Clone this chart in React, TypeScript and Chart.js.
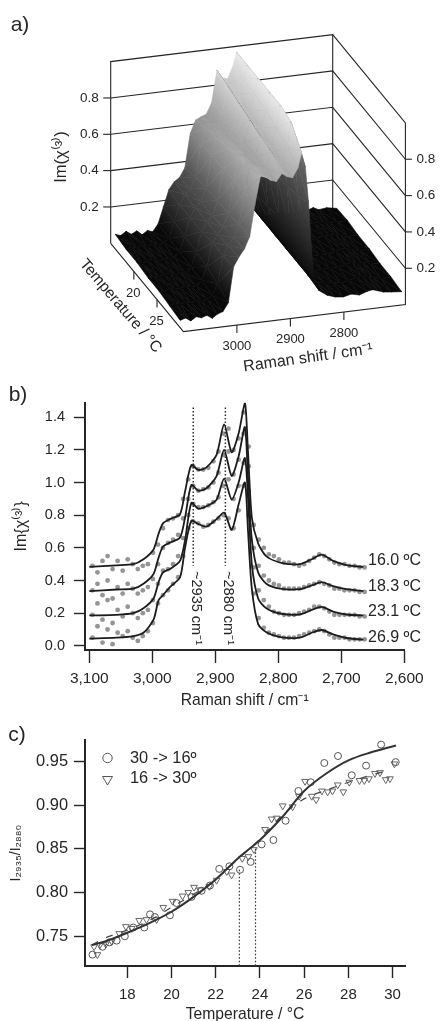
import React, { useEffect, useRef } from "react";
import { Chart, registerables } from "chart.js";

Chart.register(...registerables);

const FONT = "'Liberation Sans', Arial, sans-serif";
const INK = "#262626";

/* ---------- panel a: Im(chi3) surface ---------- */
const surfaceRaman = [3100,3090,3080,3070,3060,3050,3040,3030,3020,3010,3000,2990,2980,2970,2960,2950,2940,2930,2920,2910,2900,2890,2880,2873,2866,2860,2855,2850,2840,2825,2810,2795,2780,2765,2750,2740,2730,2720,2705,2686];
const surfaceTemps = [16, 18.3, 20.6, 23.1, 25.4, 27.7, 30];
const row160 = [.08,.07,.09,.07,.085,.06,.08,.07,.11,.20,.29,.33,.35,.40,.585,.655,.67,.68,.74,.915,.87,.86,.93,1.0,.80,.50,.28,.17,.12,.09,.08,.085,.075,.08,.09,.085,.095,.08,.085,.075];
const row183 = [.07,.08,.07,.08,.07,.08,.07,.08,.10,.19,.28,.33,.36,.42,.60,.68,.69,.69,.75,.90,.85,.85,.93,1.0,.82,.52,.28,.17,.12,.09,.08,.08,.08,.08,.09,.09,.09,.08,.08,.08];
const row206 = [.07,.06,.07,.08,.06,.07,.07,.07,.10,.18,.28,.33,.36,.43,.61,.70,.71,.70,.74,.88,.83,.83,.92,1.0,.82,.53,.29,.18,.12,.09,.08,.08,.07,.08,.09,.09,.09,.08,.07,.07];
const row231 = [.06,.07,.06,.07,.07,.06,.07,.06,.09,.17,.28,.33,.36,.44,.61,.72,.73,.71,.74,.86,.81,.81,.90,1.0,.82,.54,.30,.18,.12,.09,.08,.07,.07,.07,.08,.09,.09,.08,.07,.07];
const row254 = [.06,.05,.07,.06,.06,.07,.06,.06,.09,.16,.29,.33,.37,.44,.62,.74,.74,.72,.74,.84,.79,.79,.88,1.0,.82,.55,.31,.19,.12,.09,.07,.07,.07,.07,.08,.09,.08,.08,.07,.06];
const row277 = [.05,.06,.05,.06,.05,.06,.05,.06,.08,.14,.29,.34,.38,.45,.62,.76,.76,.74,.74,.82,.78,.77,.85,.98,.81,.57,.33,.19,.12,.08,.07,.07,.06,.07,.08,.08,.08,.07,.06,.06];
const row300 = [.04,.05,.03,.05,.04,.05,.03,.05,.06,.105,.30,.35,.39,.455,.63,.78,.77,.75,.74,.78,.76,.75,.80,.88,.80,.60,.36,.20,.11,.08,.065,.06,.07,.06,.075,.08,.07,.06,.055,.05];
const surfaceRows = [row160, row183, row206, row231, row254, row277, row300];
const surfaceZTicks = [0.2, 0.4, 0.6, 0.8];
const surfaceRamanTicks = [3000, 2900, 2800];
const surfaceTempTicks = [20, 25];
const R_A = 3100, R_B = 2685, T_A = 15, T_B = 30.7;

const project = (r: number, t: number, z: number) => {
  const u = (R_A - r) / (R_A - R_B);
  const v = (t - T_A) / (T_B - T_A);
  return { x: 110.7 + 222 * u + 72.7 * v, y: 243.3 - 27 * u + 88.3 * v - 181.7 * z };
};

/* ---------- panel b: spectra ---------- */
const ramanTicks = [3100, 3000, 2900, 2800, 2700, 2600];
const fitRaman16 = [3100,3057,3030,3014,2998,2990,2983,2972,2956,2948,2938,2927,2914,2898,2886,2874,2863,2853,2848,2842,2832,2819,2797,2766,2747,2731,2713,2692,2665];
const fit160 = [.483,.493,.50,.53,.59,.687,.75,.776,.806,.945,1.107,1.077,1.093,1.17,1.356,1.186,1.30,1.49,1.18,.786,.628,.548,.51,.50,.53,.558,.52,.495,.483];
const fit183 = [.335,.345,.35,.38,.44,.54,.608,.632,.663,.786,.985,.95,.965,1.04,1.20,1.04,1.16,1.34,1.02,.65,.45,.38,.35,.347,.37,.39,.365,.347,.335];
const fit231 = [.186,.19,.20,.23,.29,.39,.45,.47,.52,.647,.875,.84,.855,.895,1.024,.895,1.0,1.15,.90,.50,.29,.23,.198,.192,.22,.238,.21,.192,.186];
const fit269 = [.044,.05,.06,.08,.16,.28,.31,.36,.42,.60,.766,.746,.73,.776,.816,.71,.865,1.0,.70,.35,.133,.083,.053,.05,.08,.097,.07,.048,.038];
const dotRaman = [3095,3087,3079,3071,3063,3055,3047,3039,3031,3023,3015,3007,2999,2991,2983,2975,2967,2959,2951,2943,2935,2927,2919,2911,2903,2895,2887,2879,2871,2863,2855,2847,2839,2831,2823,2815,2807,2799,2791,2783,2775,2767,2759,2751,2743,2735,2727,2719,2711,2703,2695,2687,2679,2671,2663];
const dots160 = [.49,.45,.52,.55,.47,.52,.46,.53,.50,.47,.49,.50,.57,.62,.72,.77,.78,.80,.90,1.02,1.10,1.08,1.08,1.09,1.13,1.19,1.30,1.33,1.20,1.27,1.43,1.22,.74,.65,.60,.56,.55,.53,.51,.51,.50,.49,.50,.52,.54,.56,.55,.53,.51,.50,.50,.49,.49,.48,.48];
const dots183 = [.34,.38,.31,.40,.29,.36,.32,.38,.35,.32,.34,.36,.41,.50,.60,.63,.65,.68,.78,.90,.98,.95,.96,.97,1.00,1.06,1.17,1.19,1.05,1.14,1.30,1.10,.60,.49,.43,.40,.38,.37,.35,.35,.35,.35,.36,.37,.38,.39,.38,.37,.35,.35,.34,.34,.34,.33,.33];
const dots231 = [.19,.26,.16,.28,.14,.22,.18,.24,.20,.17,.20,.22,.28,.38,.46,.47,.50,.55,.66,.80,.87,.85,.85,.86,.88,.91,.98,1.02,.90,.98,1.12,.95,.48,.34,.28,.24,.21,.20,.19,.19,.19,.20,.21,.22,.24,.24,.23,.21,.19,.19,.19,.19,.19,.18,.18];
const dots269 = [.05,.12,.02,.10,.01,.08,.06,.09,.05,.03,.06,.09,.14,.26,.31,.34,.38,.42,.55,.72,.76,.75,.73,.74,.76,.78,.80,.78,.72,.83,.98,.80,.32,.17,.11,.08,.07,.06,.05,.05,.05,.06,.07,.08,.09,.10,.09,.07,.05,.05,.05,.04,.04,.04,.04];
const peakMarkers = [2935, 2884];

/* ---------- panel c: intensity ratio ---------- */
const coolT = [16.43,16.88,17.19,17.52,17.89,18.27,18.77,19.03,19.25,19.93,20.23,20.91,21.36,21.74,22.16,22.62,23.1,23.58,24.08,24.61,25.16,25.74,26.3,26.91,27.53,28.15,28.8,29.48,30.14];
const coolR = [.729,.738,.743,.745,.75,.76,.76,.775,.772,.774,.788,.795,.802,.808,.827,.83,.826,.835,.855,.86,.882,.916,.926,.948,.956,.934,.945,.969,.949];
const heatT = [16.5,16.65,16.76,17.03,17.3,17.64,17.94,18.2,18.54,18.87,19.33,19.63,20.05,20.5,20.76,21.02,21.29,21.71,22.04,22.5,22.72,23.2,23.48,23.73,24.23,24.53,24.76,25.03,25.48,25.77,26.04,26.34,26.54,26.8,27.06,27.28,27.52,27.77,28.04,28.5,28.72,28.93,29.2,29.43,29.69,29.88,30.08];
const heatR = [.738,.729,.74,.741,.744,.753,.761,.759,.768,.769,.769,.783,.79,.796,.8,.806,.803,.807,.814,.824,.82,.839,.841,.849,.872,.884,.885,.899,.898,.91,.927,.91,.906,.916,.915,.916,.923,.915,.926,.928,.928,.93,.936,.937,.929,.93,.947];
const fitCoolT = [16.4,17,18,19,20,21,22,23,24,25,26,27,28,29,30.15];
const fitCoolR = [.74,.744,.754,.765,.778,.795,.815,.839,.86,.886,.916,.936,.951,.96,.968];
const fitHeatT = [16.4,17,18,19,20,21,22,23,24,25,26,27,28,29,29.9];
const fitHeatR = [.74,.748,.757,.768,.783,.798,.815,.838,.861,.888,.907,.917,.926,.934,.94];
const midpoints = [[23.07, .826], [23.8, .85]];

const xy = (xs: number[], ys: number[]) => xs.map((x, i) => ({ x, y: ys[i] }));

type Label = { text: string; x: number; y: number; size?: number; rot?: number; align?: CanvasTextAlign };

const textPlugin = (items: Label[]) => ({
  id: "panelText",
  afterDraw(chart: any) {
    const c = chart.ctx;
    for (const l of items) {
      c.save();
      c.translate(l.x, l.y);
      c.rotate(((l.rot || 0) * Math.PI) / 180);
      c.font = `${l.size || 15}px ${FONT}`;
      c.fillStyle = INK;
      c.textAlign = l.align || "center";
      c.textBaseline = "middle";
      c.fillText(l.text, 0, 0);
      c.restore();
    }
  },
});

const edge = (pts: number[][], width = 1.1) => ({
  type: "line",
  data: pts.map((p) => project(p[0], p[1], p[2])),
  borderColor: INK,
  borderWidth: width,
  pointRadius: 0,
  fill: false,
  tension: 0,
});

const rawShade = (z: number) => 8 + (z - 0.1) * 250;
const toGrey = (raw: number, under: boolean) => {
  let g = Math.max(8, Math.min(232, raw));
  if (under) g *= 0.55;
  g = Math.round(g);
  return `rgb(${g},${g},${g})`;
};

// a linear canvas gradient reproduces a height shading that is linear over a triangle
function triangle(ctx: CanvasRenderingContext2D, corners: number[][]) {
  const p = corners.map((c) => project(c[0], c[1], c[2]));
  const g = corners.map((c) => rawShade(c[2]));
  const e1 = { x: p[1].x - p[0].x, y: p[1].y - p[0].y };
  const e2 = { x: p[2].x - p[0].x, y: p[2].y - p[0].y };
  const floor1 = project(corners[1][0], corners[1][1], 0);
  const floor0 = project(corners[0][0], corners[0][1], 0);
  const floor2 = project(corners[2][0], corners[2][1], 0);
  const area = e1.x * e2.y - e1.y * e2.x;
  const floorArea =
    (floor1.x - floor0.x) * (floor2.y - floor0.y) - (floor1.y - floor0.y) * (floor2.x - floor0.x);
  const under = area * floorArea < 0;
  const gMin = Math.min(...g), gMax = Math.max(...g);
  let fill: any = toGrey((g[0] + g[1] + g[2]) / 3, under);
  if (Math.abs(area) > 0.01 && gMax - gMin > 0.01) {
    const d1 = g[1] - g[0], d2 = g[2] - g[0];
    const gx = (d1 * e2.y - d2 * e1.y) / area;
    const gy = (d2 * e1.x - d1 * e2.x) / area;
    const n = gx * gx + gy * gy;
    const a = (gMin - g[0]) / n, b = (gMax - g[0]) / n;
    const grad = ctx.createLinearGradient(p[0].x + gx * a, p[0].y + gy * a, p[0].x + gx * b, p[0].y + gy * b);
    for (let s = 0; s <= 6; s++) grad.addColorStop(s / 6, toGrey(gMin + ((gMax - gMin) * s) / 6, under));
    fill = grad;
  }
  return {
    type: "line",
    data: [...p, p[0]],
    backgroundColor: fill,
    borderColor: fill,
    borderWidth: 0.6,
    pointRadius: 0,
    tension: 0,
    fill: "shape",
  };
}

function surfaceDatasets(ctx: CanvasRenderingContext2D) {
  const out: any[] = [];
  // far to near: low temperature first, and low wavenumber first within a strip
  for (let i = 0; i < surfaceTemps.length - 1; i++) {
    for (let j = surfaceRaman.length - 2; j >= 0; j--) {
      const a = [surfaceRaman[j], surfaceTemps[i], surfaceRows[i][j]];
      const b = [surfaceRaman[j + 1], surfaceTemps[i], surfaceRows[i][j + 1]];
      const c = [surfaceRaman[j + 1], surfaceTemps[i + 1], surfaceRows[i + 1][j + 1]];
      const d = [surfaceRaman[j], surfaceTemps[i + 1], surfaceRows[i + 1][j]];
      out.push(triangle(ctx, [a, b, c]), triangle(ctx, [a, c, d]));
    }
  }
  return out;
}

function panelA(canvas: HTMLCanvasElement) {
  const ctx = canvas.getContext("2d")!;
  const frame: any[] = [
    edge([[R_A, T_A, 0], [R_A, T_A, 1], [R_B, T_A, 1], [R_B, T_B, 1], [R_B, T_B, 0], [R_A, T_B, 0], [R_A, T_A, 0]]),
    edge([[R_B, T_A, 0], [R_B, T_A, 1]]),
    ...surfaceZTicks.map((z) => edge([[R_A, T_A, z], [R_B, T_A, z], [R_B, T_B, z]])),
  ];
  const ticks: any[] = [
    ...surfaceZTicks.map((z) => {
      const p = project(R_A, T_A, z);
      return { ...edge([]), data: [{ x: p.x - 7.5, y: p.y }, p] };
    }),
    ...surfaceZTicks.map((z) => {
      const p = project(R_B, T_B, z);
      return { ...edge([]), data: [p, { x: p.x + 6.5, y: p.y }] };
    }),
    ...surfaceRamanTicks.map((r) => {
      const p = project(r, T_B, 0);
      return { ...edge([]), data: [p, { x: p.x, y: p.y + 8 }] };
    }),
    ...surfaceTempTicks.map((t) => {
      const p = project(R_A, t, 0);
      return { ...edge([]), data: [p, { x: p.x, y: p.y + 8 }] };
    }),
  ];
  // Chart.js paints the first dataset last, so the painter's order is reversed
  const datasets = [...frame, ...ticks, ...surfaceDatasets(ctx)].reverse();
  const labels: Label[] = [
    { text: "a)", x: 20, y: 25, size: 21 },
    { text: "Im(χ⁽³⁾)", x: 61, y: 157, size: 16.5, rot: -90 },
    { text: "Temperature / °C", x: 120.5, y: 306, size: 15.5, rot: 49.5 },
    { text: "Raman shift / cm⁻¹", x: 308, y: 358, size: 16, rot: -8 },
  ];
  surfaceZTicks.forEach((z) => {
    const a = project(R_A, T_A, z);
    const b = project(R_B, T_B, z);
    labels.push({ text: z.toFixed(1), x: a.x - 12, y: a.y, size: 13.5, align: "right" });
    labels.push({ text: z.toFixed(1), x: b.x + 11, y: b.y, size: 13.5, align: "left" });
  });
  surfaceRamanTicks.forEach((r) => {
    const p = project(r, T_B, 0);
    labels.push({ text: String(r), x: p.x, y: p.y + 21, size: 13 });
  });
  surfaceTempTicks.forEach((t) => {
    const p = project(R_A, t, 0);
    labels.push({ text: String(t), x: p.x - 0.5, y: p.y + 22, size: 13 });
  });
  return new Chart(canvas, {
    type: "line",
    data: { datasets },
    options: {
      animation: false,
      responsive: false,
      parsing: false,
      normalized: true,
      layout: { padding: 0 },
      plugins: { legend: { display: false }, tooltip: { enabled: false } },
      scales: {
        x: { type: "linear", min: 0, max: 440, display: false },
        y: { type: "linear", min: 0, max: 380, reverse: true, display: false },
      },
    },
    plugins: [textPlugin(labels)],
  } as any);
}

const axisStyle = (size: number, tickLength: number, padding: number) => ({
  border: { color: INK, width: 2 },
  grid: { drawOnChartArea: false, drawTicks: true, tickLength, tickColor: INK, tickWidth: 1.4 },
  ticks: { font: { family: FONT, size }, color: INK, padding, maxRotation: 0, autoSkip: false, includeBounds: false },
});

function panelB(canvas: HTMLCanvasElement) {
  const curve = (y: number[]) => ({
    type: "line",
    data: xy(fitRaman16, y),
    borderColor: "#1c1c1c",
    borderWidth: 1.8,
    pointRadius: 0,
    tension: 0.25,
    fill: false,
  });
  const dots = (y: number[]) => ({
    type: "scatter",
    data: xy(dotRaman, y),
    showLine: false,
    backgroundColor: "#959595",
    borderWidth: 0,
    pointRadius: 2.4,
  });
  const marker = (x: number) => ({
    type: "line",
    data: [{ x, y: 1.46 }, { x, y: 0.49 }],
    borderColor: "#333",
    borderWidth: 1.5,
    borderDash: [1.5, 2],
    pointRadius: 0,
    fill: false,
  });
  const top = 385;
  const labels: Label[] = [
    { text: "b)", x: 18, y: 395 - top, size: 21 },
    { text: "~2935 cm⁻¹", x: 196, y: 608 - top, size: 14.5, rot: 90 },
    { text: "~2880 cm⁻¹", x: 228, y: 608 - top, size: 14.5, rot: 90 },
    { text: "16.0 ºC", x: 368, y: 561 - top, size: 16, align: "left" },
    { text: "18.3 ºC", x: 368, y: 587 - top, size: 16, align: "left" },
    { text: "23.1 ºC", x: 368, y: 612 - top, size: 16, align: "left" },
    { text: "26.9 ºC", x: 368, y: 638 - top, size: 16, align: "left" },
  ];
  return new Chart(canvas, {
    type: "line",
    data: {
      datasets: [
        curve(fit160), curve(fit183), curve(fit231), curve(fit269),
        ...peakMarkers.map(marker),
        dots(dots160), dots(dots183), dots(dots231), dots(dots269),
      ],
    },
    options: {
      animation: false,
      responsive: false,
      layout: { padding: { top: 10, right: 35.7, left: 0, bottom: 0 } },
      plugins: { legend: { display: false }, tooltip: { enabled: false } },
      scales: {
        x: {
          type: "linear", reverse: true, min: 2600, max: 3106.8,
          ...axisStyle(15.5, 13, 6),
          afterBuildTicks: (s: any) => { s.ticks = ramanTicks.map((value) => ({ value })); },
          title: { display: true, text: "Raman shift / cm⁻¹", font: { family: FONT, size: 15.7 }, color: INK, padding: { top: 0, bottom: 0 } },
          afterFit: (s: any) => { s.height = 60; },
        },
        y: {
          type: "linear", min: -0.0255, max: 1.489,
          ...axisStyle(14.5, 11, 9),
          ticks: { ...axisStyle(14.5, 11, 9).ticks, stepSize: 0.2, callback: (v: any) => Number(v).toFixed(1) },
          title: { display: true, text: "Im{χ⁽³⁾}", font: { family: FONT, size: 16 }, color: INK, padding: { top: 12, bottom: 0 } },
          afterFit: (s: any) => { s.width = 85; },
        },
      },
    },
    plugins: [textPlugin(labels)],
  } as any);
}

function panelC(canvas: HTMLCanvasElement) {
  const top = 710;
  const legendRows = [
    { y: 758 - top, textY: 758 - top, style: "circle", label: "30 -> 16º" },
    { y: 780 - top, textY: 778 - top, style: "triangle", label: "16 -> 30º" },
  ];
  const legendPlugin = {
    id: "panelLegend",
    afterDraw(chart: any) {
      const c = chart.ctx;
      c.save();
      c.strokeStyle = "#555";
      c.lineWidth = 1;
      const px = 107.5;
      for (const row of legendRows) {
        c.beginPath();
        if (row.style === "circle") {
          c.arc(px, row.y, 4.7, 0, Math.PI * 2);
        } else {
          c.moveTo(px - 5, row.y - 3.5);
          c.lineTo(px + 5, row.y - 3.5);
          c.lineTo(px, row.y + 5);
          c.closePath();
        }
        c.stroke();
        c.font = `16.4px ${FONT}`;
        c.fillStyle = INK;
        c.textAlign = "left";
        c.textBaseline = "middle";
        c.fillText(row.label, 130, row.textY);
      }
      c.restore();
    },
  };
  return new Chart(canvas, {
    type: "line",
    data: {
      datasets: [
        { type: "line", data: xy(fitCoolT, fitCoolR), borderColor: "#333", borderWidth: 2, pointRadius: 0, cubicInterpolationMode: "monotone", fill: false },
        { type: "line", data: xy(fitHeatT, fitHeatR), borderColor: "#444", borderWidth: 1.2, borderDash: [7, 9], pointRadius: 0, cubicInterpolationMode: "monotone", fill: false },
        ...midpoints.map((m) => ({
          type: "line",
          data: [{ x: m[0], y: m[1] }, { x: m[0], y: 0.716 }],
          borderColor: "#333", borderWidth: 1.2, borderDash: [1.5, 2], pointRadius: 0, fill: false,
        })),
        { type: "scatter", label: "30 -> 16º", data: xy(coolT, coolR), showLine: false, pointStyle: "circle", pointRadius: 3.5, borderWidth: 1, borderColor: "#555", backgroundColor: "rgba(0,0,0,0)" },
        { type: "scatter", label: "16 -> 30º", data: xy(heatT, heatR), showLine: false, pointStyle: "triangle", pointRotation: 180, pointRadius: 3.9, borderWidth: 1, borderColor: "#666", backgroundColor: "rgba(0,0,0,0)" },
      ],
    },
    options: {
      animation: false,
      responsive: false,
      layout: { padding: { top: 30, right: 35, left: 0, bottom: 0 } },
      plugins: { legend: { display: false }, tooltip: { enabled: false } },
      scales: {
        x: {
          type: "linear", min: 16.09, max: 30.56,
          ...axisStyle(15, 12, 8),
          ticks: { ...axisStyle(15, 12, 8).ticks, stepSize: 2 },
          title: { display: true, text: "Temperature / °C", font: { family: FONT, size: 15.7 }, color: INK, padding: { top: 0, bottom: 6 } },
          afterFit: (s: any) => { s.height = 64; },
        },
        y: {
          type: "linear", min: 0.716, max: 0.9743,
          ...axisStyle(16.4, 11, 6),
          ticks: { ...axisStyle(16.4, 11, 6).ticks, stepSize: 0.05, callback: (v: any) => Number(v).toFixed(2) },
          title: { display: true, text: "I₂₉₃₅/I₂₈₈₀", font: { family: FONT, size: 14 }, color: INK, padding: { top: 8, bottom: 0 } },
          afterFit: (s: any) => { s.width = 85; },
        },
      },
    },
    plugins: [textPlugin([{ text: "c)", x: 17, y: 735 - top, size: 21 }]), legendPlugin],
  } as any);
}

export default function App() {
  const a = useRef<HTMLCanvasElement>(null);
  const b = useRef<HTMLCanvasElement>(null);
  const c = useRef<HTMLCanvasElement>(null);
  useEffect(() => {
    const charts = [panelA(a.current!), panelB(b.current!), panelC(c.current!)];
    return () => charts.forEach((ch) => ch.destroy());
  }, []);
  const pos = (top: number): React.CSSProperties => ({ position: "absolute", left: 0, top, display: "block" });
  return (
    <div style={{ position: "absolute", left: 0, top: 0, width: 440, height: 1021, overflow: "hidden", background: "#fff" }}>
      <canvas ref={a} width={440} height={380} style={pos(0)} />
      <canvas ref={b} width={440} height={325} style={pos(385)} />
      <canvas ref={c} width={440} height={320} style={pos(710)} />
    </div>
  );
}
